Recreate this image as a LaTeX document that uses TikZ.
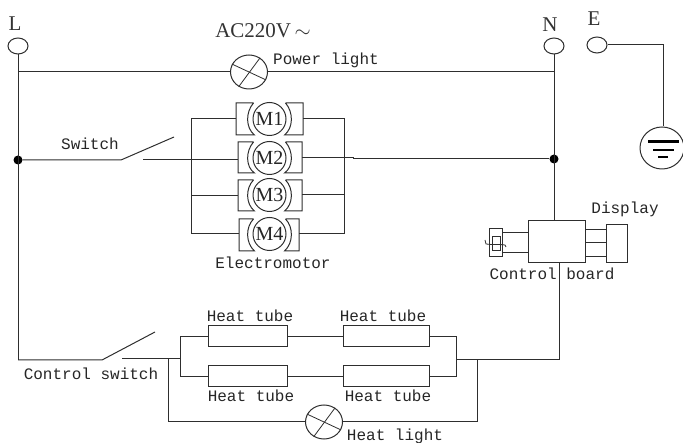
\documentclass[tikz,border=0pt]{standalone}
\usepackage{fontspec}
\setmainfont{Liberation Serif}
\setmonofont{Liberation Mono}
\usetikzlibrary{shapes.geometric}
\tikzset{
  wire/.style={draw=black!82,line width=1pt},
  lab/.style={anchor=base,inner sep=0pt,font=\ttfamily\fontsize{16}{16}\selectfont,text=black!85},
  big/.style={anchor=base,inner sep=0pt,font=\rmfamily\fontsize{21}{21}\selectfont,text=black!80},
  term/.style={ellipse,draw=black!82,line width=1pt,minimum width=20pt,minimum height=16pt,inner sep=0pt},
  lamp/.style={ellipse,draw=black!82,line width=1pt,minimum width=37pt,minimum height=34pt,inner sep=0pt},
  core/.style={circle,draw=black!82,line width=1pt,minimum size=33pt,inner sep=0pt,font=\rmfamily\fontsize{20}{20}\selectfont,text=black!85},
  box/.style={rectangle,draw=black!82,line width=1pt,inner sep=0pt},
  junction/.style={circle,fill=black,minimum size=9pt,inner sep=0pt},
}
\newcommand{\motorshape}[7]{% name cx cy left right top bot
  \draw[wire] (#2-16,#6) -- (#4,#6) -- (#4,#7) -- (#2-15,#7) .. controls (#2-24,#3+9) and (#2-24,#3-7) .. (#2-16,#6);
  \draw[wire] (#2+16,#6) -- (#5,#6) -- (#5,#7) -- (#2+15,#7) .. controls (#2+24,#3+9) and (#2+24,#3-7) .. (#2+16,#6);
  \coordinate (#1l) at (#4,#3);
  \coordinate (#1r) at (#5,#3);
}
\newcommand{\lampcross}[1]{%
  \draw[wire,line width=0.8pt] (#1.155) -- (#1.-25);
  \draw[wire,line width=0.8pt] (#1.52) -- (#1.235);
}
\begin{document}
\begin{tikzpicture}[x=1pt,y=-1pt]
\useasboundingbox (0,0) rectangle (683,443);
% terminals
\node[term] (L) at (18,46) {};
\node[term] (N) at (554,46) {};
\node[term] (E) at (597,45) {};
\node[big] (tL) at (15,31) {L};
\node[big] (tN) at (550,32) {N};
\node[big] (tE) at (594,26) {E};
\node[big] (tac) at (263,38) {AC220V\,$\sim$};
% earth
\node[ellipse,draw=black!82,line width=1pt,minimum width=44pt,minimum height=42pt,inner sep=0pt] (G) at (662,148) {};
\coordinate (Ecorner) at (663,45);
\draw[wire] (E.east) -- (Ecorner) -- (G.north -| Ecorner);
\coordinate (g1a) at (648,142); \coordinate (g1b) at (679,142);
\coordinate (g2a) at (653,150); \coordinate (g2b) at (674,150);
\coordinate (g3a) at (658,157); \coordinate (g3b) at (668,157);
\draw[black,line width=3pt] (g1a) -- (g1b);
\draw[black,line width=2pt] (g2a) -- (g2b);
\draw[black,line width=2pt] (g3a) -- (g3b);
% power light
\node[lamp] (PL) at (249,72) {};
\lampcross{PL}
\node[lab] (tPL) at (326,65) {Power light};
\coordinate (Ltop) at (18,72);
\coordinate (Ntop) at (554,72);
\draw[wire] (Ltop) -- (PL.west);
\draw[wire] (PL.east) -- (Ntop);
% junctions
\node[junction] (JL) at (18,160) {};
\node[junction] (JN) at (554,159) {};
\coordinate (Lbot) at (18,360);
\draw[wire] (L.south) -- (Lbot);
\coordinate (Nbot) at (554,221);
\draw[wire] (N.south) -- (Nbot);
% switch
\coordinate (s1) at (121,160); \coordinate (s2) at (174,137); \coordinate (s3) at (143,160);
\draw[wire] (JL) -- (s1) -- (s2);
\node[lab] (tsw) at (90,150) {Switch};
% motors
\motorshape{a}{269.5}{119}{236}{303}{103}{135}
\motorshape{b}{269.5}{158}{238}{302}{142}{173}
\motorshape{c}{269.5}{195}{238}{302}{180}{211}
\motorshape{d}{269.5}{234}{239}{299}{219}{251}
\node[core] (m1) at (269.5,119) {M1};
\node[core] (m2) at (269.5,158) {M2};
\node[core] (m3) at (269.5,195) {M3};
\node[core] (m4) at (269.5,234) {M4};
\node[lab] (tem) at (273,269) {Electromotor};
% motor buses
\coordinate (bl1) at (191,119); \coordinate (bl4) at (191,234);
\coordinate (br1) at (344,119); \coordinate (br4) at (344,234);
\draw[wire] (al) -- (bl1) -- (bl4) -- (dl);
\draw[wire] (ar) -- (br1) -- (br4) -- (dr);
\coordinate (bin) at (238,160);
\draw[wire] (s3) -- (bin);
\draw[wire] (191,196) -- (238,196);
\draw[wire] (cr) -- (344,195);
\coordinate (bk1) at (353,158); \coordinate (bk2) at (353,159);
\draw[wire] (br) -- (bk1) -- (bk2) -- (JN);
% control board
\node[box,minimum width=57pt,minimum height=42pt] (CB) at (556.5,242) {};
\node[box,minimum width=21pt,minimum height=38pt] (DI) at (616.5,244) {};
\node[lab] (tcb) at (552,280) {Control board};
\node[lab] (tdi) at (625,214) {Display};
\draw[wire] (585,230) -- (DI.west |- 0,230);
\draw[wire] (585,243) -- (DI.west |- 0,243);
\draw[wire] (585,257) -- (DI.west |- 0,257);
\node[box,minimum width=13pt,minimum height=28pt] (F1) at (495.5,243) {};
\node[box,minimum width=8pt,minimum height=14pt] (F2) at (496,244) {};
\draw[wire] (F1.east |- 0,233) -- (CB.west |- 0,233);
\draw[wire] (F1.east |- 0,253) -- (CB.west |- 0,253);
\draw[wire,line width=0.8pt] (485,240) -- (486,244) .. controls (492,245) and (500,244) .. (505,245) -- (506,247);
% heater
\coordinate (c1) at (102,360); \coordinate (c2) at (155,332); \coordinate (c3) at (122,359);
\draw[wire] (Lbot) -- (c1) -- (c2);
\node[lab] (tcs) at (91,380) {Control switch};
\node[box,minimum width=79pt,minimum height=21pt] (T1) at (247.5,336.5) {};
\node[box,minimum width=86pt,minimum height=21pt] (T2) at (386,336.5) {};
\node[box,minimum width=79pt,minimum height=21pt] (T3) at (247.5,376.5) {};
\node[box,minimum width=86pt,minimum height=21pt] (T4) at (386,376.5) {};
\node[lab] (th1) at (250,322) {Heat tube};
\node[lab] (th2) at (383,322) {Heat tube};
\node[lab] (th3) at (251,402) {Heat tube};
\node[lab] (th4) at (388,402) {Heat tube};
\coordinate (hl1) at (180,336.5); \coordinate (hl2) at (180,376.5); \coordinate (hl) at (180,359);
\coordinate (hr1) at (456,336.5); \coordinate (hr2) at (456,376.5); \coordinate (hr) at (456,360);
\draw[wire] (c3) -- (hl);
\draw[wire] (T1.west) -- (hl1) -- (hl2) -- (T3.west);
\draw[wire] (T1.east) -- (T2.west);
\draw[wire] (T3.east) -- (T4.west);
\draw[wire] (T2.east) -- (hr1) -- (hr2) -- (T4.east);
\coordinate (cbo) at (559,263); \coordinate (cbc) at (559,360);
\draw[wire] (cbo) -- (cbc) -- (hr);
% heat light
\node[lamp] (HL) at (324,422) {};
\lampcross{HL}
\node[lab] (thl) at (395,441) {Heat light};
\coordinate (hb1) at (168,359); \coordinate (hb2) at (168,422);
\coordinate (hb3) at (477,422); \coordinate (hb4) at (477,360);
\draw[wire] (hb1) -- (hb2) -- (HL.west);
\draw[wire] (HL.east) -- (hb3) -- (hb4);
\end{tikzpicture}
\end{document}
